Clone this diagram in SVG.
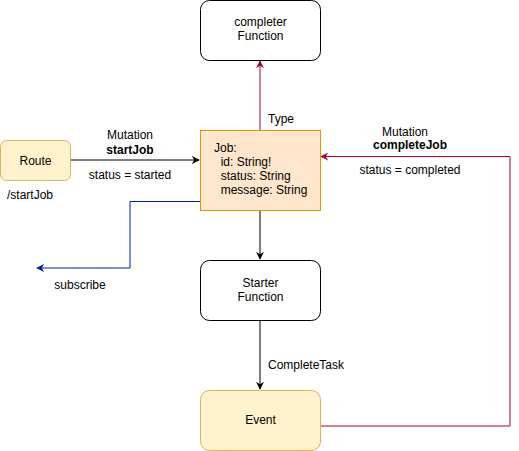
<svg xmlns="http://www.w3.org/2000/svg" width="519" height="451" viewBox="0 0 519 451">
<defs>
<style>
text{font-family:"Liberation Sans",Arial,sans-serif;font-size:12px;fill:#000}
.c{text-anchor:middle}
.b{font-weight:bold}
.node{stroke-width:1}
.e{fill:none;stroke-width:1}
</style>
<marker id="ab" viewBox="0 0 10 10" refX="9" refY="5" markerWidth="8" markerHeight="8" markerUnits="userSpaceOnUse" orient="auto"><path d="M0,0 L10,5 L0,10 L3,5 Z" fill="#000"/></marker>
<marker id="ar" viewBox="0 0 10 10" refX="9" refY="5" markerWidth="8" markerHeight="8" markerUnits="userSpaceOnUse" orient="auto"><path d="M0,0 L10,5 L0,10 L3,5 Z" fill="#A50040"/></marker>
<marker id="au" viewBox="0 0 10 10" refX="9" refY="5" markerWidth="8" markerHeight="8" markerUnits="userSpaceOnUse" orient="auto"><path d="M0,0 L10,5 L0,10 L3,5 Z" fill="#001DBC"/></marker>
</defs>
<rect width="519" height="451" fill="#fff"/>
<g id="connectors">
<path class="e" d="M70,160 H199" stroke="#000" marker-end="url(#ab)"/>
<path class="e" d="M260,130 V61" stroke="#A50040" marker-end="url(#ar)"/>
<path class="e" d="M320,426 H510 V156.5 H321" stroke="#A50040" marker-end="url(#ar)"/>
<path class="e" d="M200,201.5 H130 V268 H37" stroke="#001DBC" marker-end="url(#au)"/>
<path class="e" d="M260,210 V259" stroke="#000" marker-end="url(#ab)"/>
<path class="e" d="M260,320 V389" stroke="#000" marker-end="url(#ab)"/>
<text class="c" x="130" y="139">Mutation</text>
<text class="c b" x="130" y="154">startJob</text>
<text class="c" x="130" y="179">status = started</text>
<text x="268" y="123">Type</text>
<text class="c" x="405" y="136">Mutation</text>
<text class="c b" x="410" y="149">completeJob</text>
<text class="c" x="410" y="174">status = completed</text>
<text class="c" x="80" y="289">subscribe</text>
<text x="268" y="369">CompleteTask</text>
</g>
<g id="route">
<rect class="node" x="0.5" y="140.5" width="70" height="40" rx="6" fill="#fff2cc" stroke="#d6b656"/>
<text class="c" x="35.5" y="164.5">Route</text>
<text class="c" x="30" y="199">/startJob</text>
</g>
<g id="completer">
<rect class="node" x="200.5" y="0.5" width="120" height="60" rx="9" fill="#fff" stroke="#000"/>
<text class="c" x="260.5" y="26">completer</text>
<text class="c" x="260.5" y="40">Function</text>
</g>
<g id="job">
<rect class="node" x="200.5" y="130.5" width="120" height="80" fill="#ffe6cc" stroke="#d79b00"/>
<text x="214" y="152">Job:</text>
<text x="214" y="166" xml:space="preserve">  id: String!</text>
<text x="214" y="180" xml:space="preserve">  status: String</text>
<text x="214" y="194" xml:space="preserve">  message: String</text>
</g>
<g id="starter">
<rect class="node" x="200.5" y="260.5" width="120" height="60" rx="9" fill="#fff" stroke="#000"/>
<text class="c" x="260.5" y="287">Starter</text>
<text class="c" x="260.5" y="301">Function</text>
</g>
<g id="event">
<rect class="node" x="200.5" y="390.5" width="120" height="60" rx="9" fill="#fff2cc" stroke="#d6b656"/>
<text class="c" x="260.5" y="424">Event</text>
</g>
</svg>
